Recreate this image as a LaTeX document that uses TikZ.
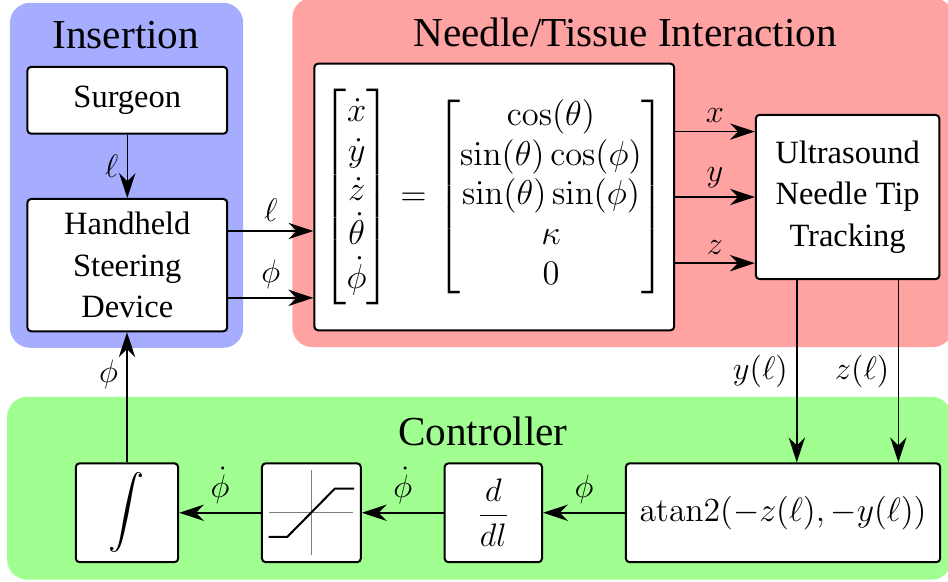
\RequirePackage{fix-cm}
\documentclass[tikz,border=0pt]{standalone}
\usepackage{amsmath}
\usepackage[no-math]{fontspec}
\setmainfont{Liberation Serif}
\usetikzlibrary{arrows.meta,positioning,calc}

\definecolor{insertcol}{RGB}{166,173,255}
\definecolor{tissuecol}{RGB}{255,162,162}
\definecolor{ctrlcol}{RGB}{161,255,145}

\tikzstyle{block} = [rectangle, draw=black, thick, fill=white, rounded corners=1.5pt, align=center, inner sep=0pt]
\tikzstyle{region} = [rounded corners=8pt]
\tikzstyle{title} = [font=\fontsize{16.5}{19}\selectfont]
\tikzstyle{arrow} = [semithick, -{Stealth[length=3.5mm,width=2.3mm]}]

\begin{document}
\begin{tikzpicture}[font=\fontsize{13}{16.6}\selectfont]
    \useasboundingbox (0,0) rectangle (13.33,-8.17);

    % background panels
    \fill [insertcol, region] (0.14,-0.04) rectangle (3.42,-4.89);
    \fill [tissuecol, region] (4.11,0.03) rectangle (13.40,-4.88);
    \fill [ctrlcol, region] (0.10,-5.58) rectangle (13.38,-8.15);

    \node (tins) [title] at (1.77,-0.49) {Insertion};
    \node (ttis) [title] at (8.79,-0.45) {Needle/Tissue Interaction};
    \node (tctl) [title] at (6.79,-6.07) {Controller};

    % insertion
    \node (surgeon) [block, minimum width=2.81cm, minimum height=0.94cm] at (1.79,-1.41) {Surgeon};
    \node (hand) [block, minimum width=2.81cm, minimum height=1.86cm, below=0.89cm of surgeon] {Handheld\\Steering\\Device};

    % needle model and tracking
    \node (model) [block, minimum width=5.06cm, minimum height=3.75cm, font=\fontsize{13.8}{16}\selectfont] at (6.95,-2.77)
        {$\begin{bmatrix}\dot x\\ \dot y\\ \dot z\\ \dot\theta\\ \dot\phi\end{bmatrix}
          = \begin{bmatrix}\cos(\theta)\\ \sin(\theta)\cos(\phi)\\ \sin(\theta)\sin(\phi)\\ \kappa\\ 0\end{bmatrix}$};
    \node (track) [block, minimum width=2.58cm, minimum height=2.31cm, right=1.12cm of model] {Ultrasound\\Needle Tip\\Tracking};

    % controller
    \node (atan) [block, minimum width=4.42cm, minimum height=1.39cm, font=\fontsize{13.5}{16}\selectfont] at (11.01,-7.21) {$\mathrm{atan2}(-z(\ell),-y(\ell))$};
    \node (ddl) [block, minimum width=1.37cm, minimum height=1.39cm, left=1.15cm of atan] {$\dfrac{d}{dl}$};
    \node (sat) [block, minimum width=1.39cm, minimum height=1.39cm, left=1.15cm of ddl] {};
    \node (int) [block, minimum width=1.44cm, minimum height=1.39cm, left=1.15cm of sat] {\Large$\displaystyle\int$};

    % saturation curve
    \begin{scope}[shift={(sat.center)}]
        \draw [gray, thin] (-0.59,0) -- (0.59,0);
        \draw [gray, thin] (0,-0.6) -- (0,0.6);
        \draw [thick] (-0.60,-0.34) -- (-0.34,-0.34) -- (0.33,0.34) -- (0.60,0.34);
    \end{scope}

    \draw [arrow] (surgeon) -- node[left] {$\ell$} (hand);
    \draw [arrow] ([yshift=0.48cm]hand.east) -- node[above] {$\ell$} ([yshift=0.48cm]hand.east -| model.west);
    \draw [arrow] ([yshift=-0.46cm]hand.east) -- node[above] {$\phi$} ([yshift=-0.46cm]hand.east -| model.west);

    \draw [arrow] ([yshift=0.92cm]model.east) -- node[above] {$x$} ([yshift=0.92cm]model.east -| track.west);
    \draw [arrow] (model.east) -- node[above] {$y$} (model.east -| track.west);
    \draw [arrow] ([yshift=-0.93cm]model.east) -- node[above] {$z$} ([yshift=-0.93cm]model.east -| track.west);

    \draw [arrow] ([xshift=0.59cm]track.south west) -- node[left] {$y(\ell)$} ([xshift=0.59cm]track.south west |- atan.north);
    \draw [arrow] ([xshift=-0.59cm]track.south east) -- node[left] {$z(\ell)$} ([xshift=-0.59cm]track.south east |- atan.north);

    \draw [arrow] (atan) -- node[above] {$\phi$} (ddl);
    \draw [arrow] (ddl) -- node[above] {$\dot\phi$} (sat);
    \draw [arrow] (sat) -- node[above] {$\dot\phi$} (int);
    \draw [arrow] (int.north) -- node[pos=0.68, left] {$\phi$} (int.north |- hand.south);
\end{tikzpicture}
\end{document}
